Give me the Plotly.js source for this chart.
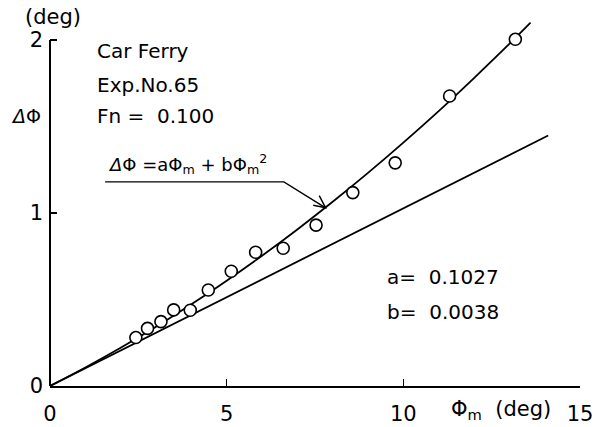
<!DOCTYPE html>
<html>
<head>
<meta charset="utf-8">
<script src="https://cdn.plot.ly/plotly-3.0.1.min.js"></script>
<style>html,body{margin:0;padding:0;background:#fff;}#chart{width:605px;height:427px;}</style>
</head>
<body>
<div id="chart"></div>
<script>
// Measured points: roll amplitude phi_m (deg) vs delta phi (deg)
const phiM = [2.43, 2.76, 3.14, 3.50, 3.97, 4.48, 5.13, 5.82, 6.60, 7.53, 8.57, 9.77, 11.31, 13.17];
const dPhi = [0.28, 0.333, 0.372, 0.44, 0.438, 0.555, 0.663, 0.773, 0.796, 0.93, 1.118, 1.29, 1.676, 2.004];

// Fitted curve
const curveX = [0, 1, 2, 3, 4, 5, 6, 7, 8, 9, 10, 11, 12, 13, 13.6];
const curveY = [0, 0.107, 0.221, 0.342, 0.472, 0.609, 0.753, 0.905, 1.065, 1.232, 1.407, 1.589, 1.780, 1.977, 2.10];

// Straight (linear term) line
const lineX = [0, 14.1];
const lineY = [0, 1.448];

const xTicks = [0, 5, 10, 15];
const yTicks = [0, 1, 2];

const F = '"DejaVu Sans", sans-serif';
const W = 605, H = 427, L = 50, R = 580, T = 19, B = 386;
const PXU = 173; // pixels per y unit
const yTop = (B - T) / PXU;
const px = v => (v - L) / (R - L);
const py = v => (B - v) / (B - T);

const traces = [
  {x: lineX, y: lineY, mode: 'lines', line: {color: '#000', width: 1.8}, hoverinfo: 'skip'},
  {x: curveX, y: curveY, mode: 'lines', line: {color: '#000', width: 1.8, shape: 'spline'}, hoverinfo: 'skip'},
  {x: phiM, y: dPhi, mode: 'markers', cliponaxis: false,
   marker: {symbol: 'circle', size: 12, color: '#fff', line: {color: '#000', width: 1.6}}}
];

function txt(t, x, y, size, anchor) {
  return {text: t, xref: 'paper', yref: 'paper', x: px(x), y: py(y), showarrow: false,
          xanchor: anchor || 'left', yanchor: 'middle', font: {family: F, size: size || 19, color: '#000'}};
}

const annotations = [
  txt('(deg)', 53, 17, 21, 'center'),
  txt('<i>Δ</i>Φ', 26, 116, 19, 'center'),
  txt('Car Ferry', 95, 51, 20),
  txt('Exp.No.65', 95, 85, 20),
  txt('Fn =  0.100', 95, 116, 20),
  txt('<i>Δ</i>Φ =aΦ<sub>m</sub> + bΦ<sub>m</sub><sup>2</sup>', 106, 164, 18),
  txt('a=  0.1027', 385, 277, 20),
  txt('b=  0.0038', 385, 312, 20),
  txt('Φ<sub>m</sub>  (deg)', 449, 410, 21)
];

const shapes = [
  // leader from the formula label to the fitted curve
  {type: 'path', xref: 'x', yref: 'y', path: 'M 1.56,1.18 L 6.62,1.18 L 7.8,1.03',
   line: {color: '#000', width: 1.4}},
  // arrow head
  {type: 'path', xref: 'x', yref: 'y', path: 'M 7.45,1.045 L 7.8,1.03 L 7.62,1.1',
   line: {color: '#000', width: 1.4}},
  // y axis line from 0 to 2
  {type: 'line', xref: 'paper', yref: 'y', x0: 0, x1: 0, y0: 0, y1: 2, line: {color: '#000', width: 2}}
];

const layout = {
  width: W, height: H,
  margin: {l: L, r: W - R, t: T, b: H - B, pad: 0},
  paper_bgcolor: '#fff', plot_bgcolor: '#fff',
  showlegend: false,
  font: {family: F, color: '#000'},
  xaxis: {range: [0, 15], tickvals: xTicks,
          ticks: 'inside', ticklen: 7, tickwidth: 1.6, tickcolor: '#000',
          showline: true, linecolor: '#000', linewidth: 2, showgrid: false, zeroline: false,
          tickfont: {family: F, size: 21}, ticklabelstandoff: 8, fixedrange: true},
  yaxis: {range: [0, yTop], tickvals: yTicks,
          ticks: 'inside', ticklen: 7, tickwidth: 1.6, tickcolor: '#000',
          showline: false, showgrid: false, zeroline: false,
          tickfont: {family: F, size: 21}, ticklabelstandoff: 6, fixedrange: true},
  annotations: annotations,
  shapes: shapes
};

Plotly.newPlot('chart', traces, layout, {displayModeBar: false, staticPlot: true});
</script>
</body>
</html>
